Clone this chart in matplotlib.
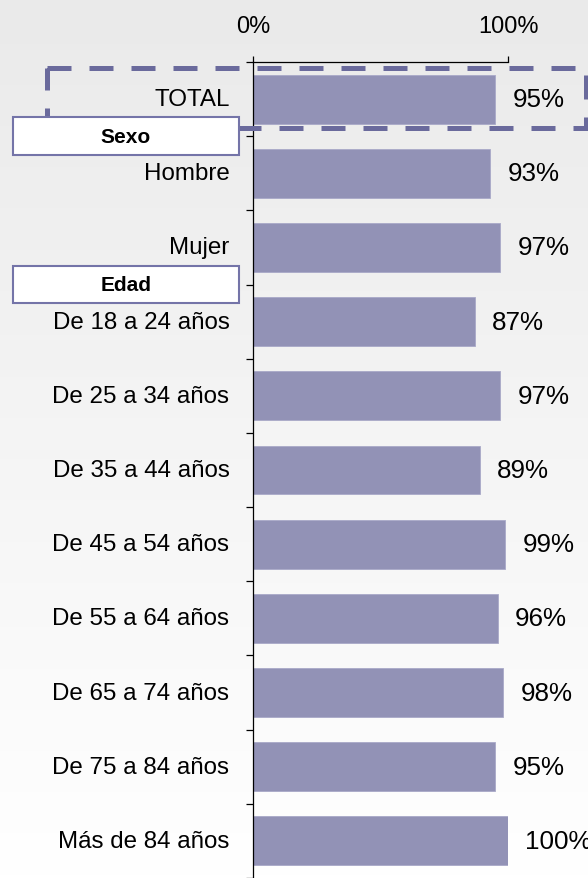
import matplotlib.pyplot as plt
import numpy as np
from matplotlib.colors import LinearSegmentedColormap
from matplotlib.patches import Rectangle
from matplotlib.transforms import blended_transform_factory

categories = [
    "TOTAL", "Hombre", "Mujer",
    "De 18 a 24 años", "De 25 a 34 años", "De 35 a 44 años",
    "De 45 a 54 años", "De 55 a 64 años", "De 65 a 74 años",
    "De 75 a 84 años", "Más de 84 años",
]
values = [95, 93, 97, 87, 97, 89, 99, 96, 98, 95, 100]
headers = ["Sexo", "Edad"]
header_after = ["TOTAL", "Mujer"]  # header sits on the boundary below this category

BAR = "#9292b6"
DASH = "#6a6a9c"
BOX = "#7474a8"

plt.rcParams["font.family"] = ["Liberation Sans", "DejaVu Sans"]

W, H = 588, 879
fig = plt.figure(figsize=(W / 100, H / 100), dpi=100)

# light grey -> white background gradient
bg = fig.add_axes([0, 0, 1, 1], zorder=-5)
grad = np.linspace(0, 1, 256).reshape(-1, 1)
cmap = LinearSegmentedColormap.from_list("bg", ["#ffffff", "#eaeaea"])
bg.imshow(grad, aspect="auto", cmap=cmap, origin="lower", extent=[0, 1, 0, 1])
bg.axis("off")

ax = fig.add_axes([253 / W, 0, (508 - 253) / W, (H - 63) / H])
ax.patch.set_alpha(0)

n = len(categories)
y = np.arange(n)
ax.barh(y, values, height=0.66, color=BAR, edgecolor="#a9a9c8", linewidth=0.6)
ax.set_xlim(0, 100)
ax.set_ylim(n - 0.5, -0.5)

ax.xaxis.tick_top()
ax.set_xticks([0, 100])
ax.set_xticklabels(["0%", "100%"], fontsize=17)
ax.tick_params(axis="x", direction="out", length=4.3, width=0.9, pad=14)
ax.set_yticks(np.arange(-0.5, n, 1))
ax.set_yticklabels([])
ax.tick_params(axis="y", direction="out", length=5, width=0.9)
for side in ("right", "bottom"):
    ax.spines[side].set_visible(False)
for side in ("left", "top"):
    ax.spines[side].set_linewidth(0.9)

for i, (cat, val) in enumerate(zip(categories, values)):
    ax.annotate(cat, xy=(0, i), xytext=(-17, 0), textcoords="offset points",
                ha="right", va="center", fontsize=17.4)
    ax.annotate(f"{val}%", xy=(val, i), xytext=(12.5, 0), textcoords="offset points",
                ha="left", va="center", fontsize=18.7, annotation_clip=False)

trans = blended_transform_factory(fig.transFigure, ax.transData)

# dashed frame around TOTAL
frame = Rectangle((47 / W, -0.42), (586 - 47) / W, 0.81, transform=trans,
                  fill=False, edgecolor=DASH, linewidth=3.6,
                  linestyle=(0, (4.8, 3.6)), zorder=4, clip_on=False)
fig.add_artist(frame)

# group headers
for name, after in zip(headers, header_after):
    b = categories.index(after) + 0.5
    box = Rectangle((13 / W, b - 0.255), (239 - 13) / W, 0.51, transform=trans,
                    facecolor="white", edgecolor=BOX, linewidth=1.5, zorder=5,
                    clip_on=False)
    fig.add_artist(box)
    fig.add_artist(plt.Text(126 / W, b, name, transform=trans, ha="center",
                            va="center", fontsize=15, fontweight="bold", zorder=6))

fig.savefig("out.png", dpi=100)
plt.close(fig)
